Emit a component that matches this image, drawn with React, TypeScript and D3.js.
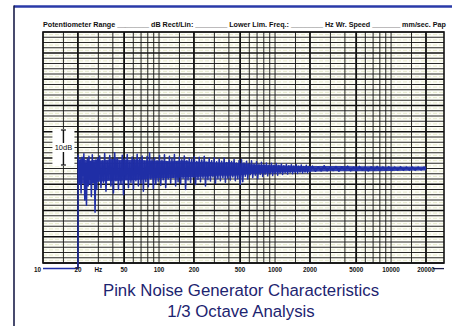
import React from "react";
import * as d3 from "d3";

const W = 459;
const H = 326;

// Frequency grid of the recorder paper (Hz)
const gridFreqs = [
  10, 15, 20, 30, 40, 50, 60, 70, 80, 90,
  100, 150, 200, 300, 400, 500, 600, 700, 800, 900,
  1000, 1500, 2000, 3000, 4000, 5000, 6000, 7000, 8000, 9000,
  10000, 15000, 20000,
];
const heavyFreqs = [20, 50, 200, 500, 2000, 5000, 20000];
const axisFreqs = [10, 20, 50, 100, 200, 500, 1000, 2000, 5000, 10000, 20000];
const axisLabels = ["10", "20", "50", "100", "200", "500", "1000", "2000", "5000", "10000", "20000"];

// Recorder trace (Hz, dB relative to mean level)
const traceFreqs = [
  10, 20, 20.1, 20.5, 20.9, 21.3, 21.7, 22.1, 22.5, 22.9, 23.3, 23.7, 24.1, 24.5, 24.9, 25.3, 25.7, 26.1, 26.6, 27.1, 27.6, 28.1, 28.6, 29.1, 29.6, 30.1,
  30.8, 31.6, 32.4, 33.2, 34, 34.9, 35.8, 36.7, 37.6, 38.5, 39.5, 40.5, 41.5, 42.5, 43.6, 44.7, 45.8, 47, 48.2, 49.4, 50.6, 51.9, 53.2, 54.5, 55.9, 57.3, 58.7, 60.2, 61.7, 63.2, 64.8, 66.4, 68.1, 69.8, 71.5, 73.3, 75.1, 77, 78.9, 80.9, 82.9, 85, 87.1, 89.3, 91.5, 93.8, 96.1, 98.5,
  101, 103.5, 106, 108.7, 111.4, 114.2, 117, 120, 123, 126, 129.2, 132.4, 135.7, 139, 142.5, 146, 149.7, 153.5, 157.3, 161.2, 165.2, 169.4, 173.6, 177.9, 182.4, 187, 191.6, 196.4, 201.3, 206.4, 211.5, 216.8, 222.2, 227.8, 233.5, 239.3, 245.3, 251.4, 257.7, 264.1, 270.7, 277.5, 284.4, 291.5, 298.8, 306.3, 314, 321.8, 329.8, 338.1, 346.5, 355.2, 364.1, 373.2, 382.5, 392.1, 401.9, 411.9, 422.2, 432.8, 443.6, 454.7, 466, 477.7, 489.6, 501.9,
  514, 527, 540, 554, 568, 582, 596, 611, 627, 642, 659, 675, 692, 709, 727, 745, 764, 783, 803, 823, 843, 864, 886, 908, 931, 954, 978, 1002, 1027, 1053, 1079, 1106, 1134, 1162, 1191, 1221, 1252, 1283, 1315, 1348, 1382, 1416, 1452, 1488, 1525, 1563, 1602, 1642, 1683, 1726, 1769, 1813, 1858, 1905, 1952, 2001,
  2100, 2230, 2360, 2500, 2650, 2810, 2980, 3160, 3350, 3550, 3760, 3990, 4230, 4480, 4750, 5040, 5340, 5660, 6000, 6360, 6740, 7150, 7580, 8030, 8510, 9020, 9560, 10130, 10740, 11390, 12070, 12790, 13560, 14370, 15240, 16150, 17120, 18150, 19240, 20000,
];
const traceLevels = [
  -28.6, -28.6, 3.8, -4, 2.5, -7, 3.2, -2, 4.2, -9, 1.5, -10.5, 2.8, -5, 3.5, -3, 2, -8, 3.9, -4, 1.8, -12.5, 2.4, -6, 3.1, -3.5,
  3.6, -5.5, 2.2, -4, 4.3, -6.5, 1.9, -3, 3.7, -5, 2.6, -7, 4.5, -3.5, 3, -6, 2, -4.5, 3.8, -7.5, 2.7, -3, 4, -5.5, 1.8, -4, 3.3, -6, 2.5, -3.5, 4.1, -5, 2.9, -4.2, 3.6, -6.5, 2.1, -3.8, 3.4, -5.2, 4.4, -3, 2.6, -5.8, 3.1, -4.5, 2.2, -3.6,
  3.7, -4.8, 2.4, -3.2, 3.9, -5.5, 2, -3, 3.5, -4.2, 2.8, -2.6, 4, -5, 1.9, -3.8, 3.3, -4.4, 2.5, -2.8, 3.6, -6, 2.2, -3.3, 3, -4, 2.6, -2.5, 3.4, -4.6, 2, -3.1, 3.2, -3.8, 2.4, -2.7, 3.5, -5, 1.8, -3.2, 2.9, -3.6, 2.2, -2.4, 3.1, -4.2, 1.9, -2.9, 2.7, -3.5, 2.1, -2.6, 3, -3.9, 1.7, -2.8, 2.4, -3.3, 2, -2.4, 2.6, -3.5, 1.6, -2.9, 2.3, -4.5,
  2.5, -3.8, 1.6, -2.2, 2.1, -3, 1.4, -1.8, 2.2, -2.6, 1.3, -1.9, 1.9, -2.9, 1.2, -1.7, 1.8, -2.3, 1.1, -1.6, 1.6, -2.1, 1, -1.5, 1.5, -2, 0.9, -1.4, 1.4, -1.9, 0.9, -1.3, 1.3, -1.7, 0.8, -1.2, 1.2, -1.6, 0.8, -1.1, 1.1, -1.5, 0.7, -1.1, 1.1, -1.4, 0.7, -1, 1, -1.3, 0.6, -1, 0.9, -1.2, 0.6, -0.9,
  0.7, -0.8, 0.5, -0.7, 0.8, -0.7, 0.4, -0.6, 0.6, -0.8, 0.5, -0.5, 0.7, -0.7, 0.4, -0.6, 0.6, -0.5, 0.4, -0.7, 0.5, -0.4, 0.6, -0.6, 0.4, -0.5, 0.5, -0.6, 0.4, -0.5, 0.5, -0.5, 0.4, -0.5, 0.4, -0.5, 0.4, -0.4, 0.4, -0.2,
];

// Dense core of the trace (where the pen overlaps itself)
const coreFreqs = [20.2, 22, 25, 28, 32, 40, 50, 63, 80, 100, 130, 160, 200, 250, 320, 400, 500, 630, 800, 1000, 1250, 1600, 2000, 3000, 5000, 10000, 20000];
const coreHigh = [2.4, 2.7, 2.2, 2.5, 2.3, 2.7, 2.4, 2.6, 2.3, 2.2, 2.1, 2.3, 1.9, 2, 1.7, 1.8, 1.5, 1.2, 1.0, 0.9, 0.8, 0.75, 0.7, 0.7, 0.65, 0.6, 0.55];
const coreLow = [-4.8, -4.3, -4.6, -3.9, -3.7, -3.5, -3.4, -3.3, -2.9, -2.7, -2.7, -2.5, -2.4, -2.3, -2.1, -2.1, -1.9, -1.5, -1.3, -1.15, -1.05, -0.95, -0.9, -0.8, -0.8, -0.7, -0.6];

const headerText =
  "Potentiometer Range ________ dB Rect/Lin: ________ Lower Lim. Freq.: ________ Hz   Wr.  Speed _______ mm/sec.  Pap";
const titleLines = ["Pink Noise Generator Characteristics", "1/3 Octave Analysis"];
const bracketLabel = "10dB";

export default function App() {
  const gridLeft = 43;
  const gridRight = 444;
  const gridTop = 32;
  const gridBottom = 263;

  const x = d3.scaleLog().domain([10, 20000]).range([43, 426]);
  const y = d3.scaleLinear().domain([-27, 39]).range([gridBottom, gridTop]);
  const hLines = d3.range(-27, 39.01, 1.5);

  const line = d3
    .line<number>()
    .x((_, i) => x(traceFreqs[i]))
    .y((d) => y(d));
  const tracePath = line(traceLevels) || "";

  const area = d3
    .area<number>()
    .x((f) => x(f))
    .y0((_, i) => y(coreLow[i]))
    .y1((_, i) => y(coreHigh[i]))
    .curve(d3.curveMonotoneX);
  const corePath = area(coreFreqs) || "";

  const navy = "#1d2470";
  const pen = "#1f2ea6";
  const labelY = 270;

  return (
    <svg width={W} height={H} style={{ position: "absolute", left: 0, top: 0, background: "#fff" }}>
      <rect x={0} y={0} width={W} height={H} fill="#fff" />
      {/* frame */}
      <line x1={14} x2={452} y1={6.5} y2={6.5} stroke="#2a3aa8" strokeWidth={2.5} />
      <line x1={14} x2={14} y1={5.5} y2={H} stroke="#1a1d4a" strokeWidth={1.6} />

      {/* header */}
      <text
        x={gridLeft}
        y={26.5}
        fontFamily="Liberation Sans, Arial, sans-serif"
        fontSize={6.3}
        fontWeight="bold"
        fill="#111"
        textLength={gridRight + 2 - gridLeft}
        lengthAdjust="spacingAndGlyphs"
      >
        {headerText}
      </text>

      {/* paper tint */}
      <rect x={gridLeft} y={gridTop} width={gridRight - gridLeft} height={gridBottom - gridTop} fill="#fdfdf6" />

      {/* faint minor lines */}
      {hLines.slice(0, -1).map((v) => (
        <line
          key={"m" + v}
          x1={gridLeft}
          x2={gridRight}
          y1={y(v + 0.75)}
          y2={y(v + 0.75)}
          stroke="#d7ddb2"
          strokeWidth={0.6}
          strokeDasharray="4 2"
        />
      ))}

      {/* horizontal grid */}
      {hLines.map((v, i) => (
        <line
          key={"h" + v}
          x1={gridLeft}
          x2={gridRight}
          y1={y(v)}
          y2={y(v)}
          stroke="#111"
          strokeWidth={i % 5 === 0 ? 1.3 : 0.9}
        />
      ))}

      {/* vertical grid */}
      {gridFreqs.map((f) => (
        <line
          key={"v" + f}
          x1={x(f)}
          x2={x(f)}
          y1={gridTop}
          y2={gridBottom}
          stroke="#111"
          strokeWidth={heavyFreqs.includes(f) ? 1.8 : 0.9}
        />
      ))}
      <line x1={x(20)} x2={x(20)} y1={gridBottom} y2={labelY - 2} stroke="#111" strokeWidth={1.8} />
      <rect
        x={gridLeft}
        y={gridTop}
        width={gridRight - gridLeft}
        height={gridBottom - gridTop}
        fill="none"
        stroke="#111"
        strokeWidth={1.6}
      />

      {/* 10 dB bracket */}
      <g>
        <rect x={x(15) - 11} y={y(11) - 1} width={22} height={y(1) - y(11) + 2} fill="#fff" />
        <line x1={x(15)} x2={x(15)} y1={y(11)} y2={y(1)} stroke="#111" strokeWidth={1.4} />
        <line x1={x(15) - 2.5} x2={x(15) + 2.5} y1={y(11)} y2={y(11)} stroke="#111" strokeWidth={1.2} />
        <line x1={x(15) - 2.5} x2={x(15) + 2.5} y1={y(1)} y2={y(1)} stroke="#111" strokeWidth={1.2} />
        <rect x={x(15) - 10} y={y(6) - 4.5} width={20} height={9} fill="#fff" />
        <text
          x={x(15)}
          y={y(6) + 2.5}
          textAnchor="middle"
          fontFamily="Liberation Sans, Arial, sans-serif"
          fontSize={7.5}
          fill="#111"
        >
          {bracketLabel}
        </text>
      </g>

      {/* trace */}
      <path d={corePath} fill={pen} fillOpacity={0.92} stroke="none" />
      <path d={tracePath} fill="none" stroke={pen} strokeWidth={1.5} strokeLinejoin="round" />
      <line x1={x(20000) + 7} x2={gridRight} y1={y(-28.6)} y2={y(-28.6)} stroke="#1a1d4a" strokeWidth={1.3} />

      {/* axis labels */}
      {axisFreqs.map((f, i) => (
        <text
          key={"t" + f}
          x={f === 10 ? x(f) - 2 : x(f)}
          y={labelY + 2}
          textAnchor={f === 10 ? "end" : "middle"}
          fontFamily="Liberation Sans, Arial, sans-serif"
          fontSize={6.3}
          fontWeight="bold"
          fill="#111"
        >
          {axisLabels[i]}
        </text>
      ))}
      <text
        x={x(30)}
        y={labelY + 2}
        textAnchor="middle"
        fontFamily="Liberation Sans, Arial, sans-serif"
        fontSize={6.3}
        fontWeight="bold"
        fill="#111"
      >
        Hz
      </text>

      {/* title */}
      {titleLines.map((t, i) => (
        <text
          key={t}
          x={241}
          y={296 + i * 20.5}
          textAnchor="middle"
          fontFamily="Liberation Sans, Arial, sans-serif"
          fontSize={16.8}
          fill={navy}
        >
          {t}
        </text>
      ))}
    </svg>
  );
}
